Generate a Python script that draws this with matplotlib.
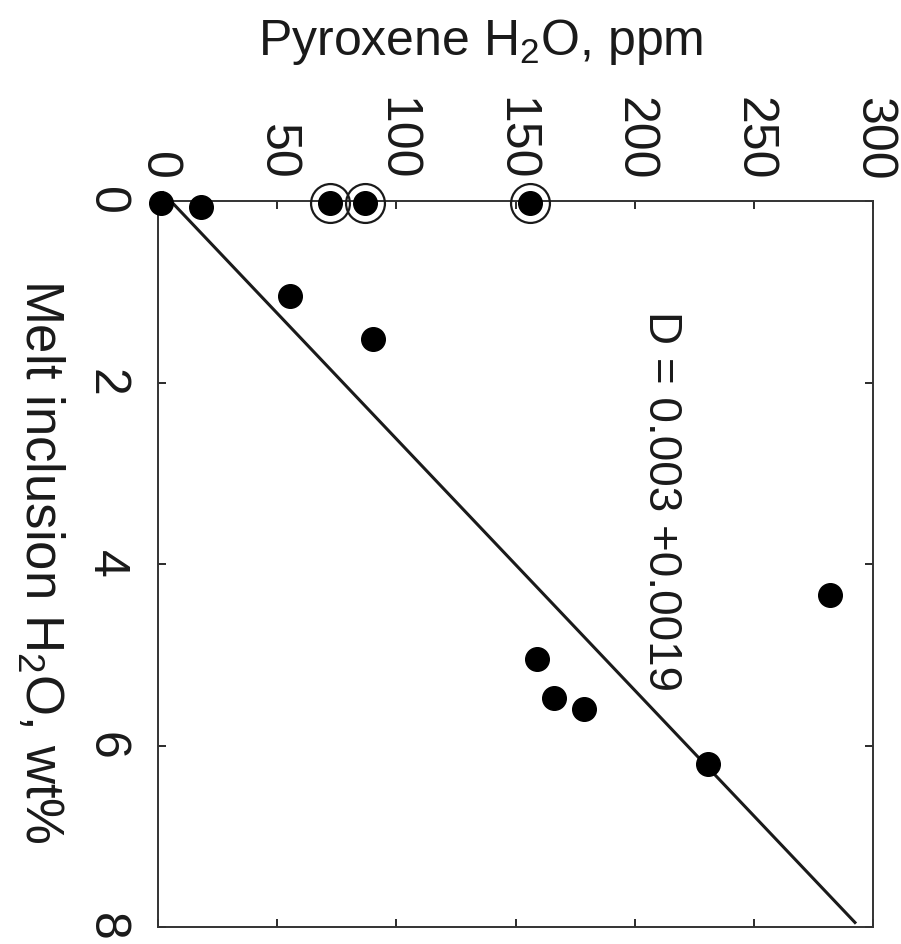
import matplotlib
matplotlib.use('Agg')
import matplotlib.pyplot as plt
import numpy as np

plt.rcParams['font.family'] = ['Liberation Sans', 'DejaVu Sans']
plt.rcParams['mathtext.fontset'] = 'custom'
plt.rcParams['mathtext.rm'] = 'Liberation Sans'

# pyroxene H2O (ppm) vs melt inclusion H2O (wt%)
pyx_ppm = [1.3, 18, 72, 87, 156, 55.5, 90, 282, 159, 166, 178.6, 230.7]
melt_wt = [0.02, 0.07, 0.02, 0.02, 0.02, 1.05, 1.52, 4.34, 5.05, 5.48, 5.6, 6.2]
# circled samples
circ_ppm = [72, 87, 156]
circ_wt = [0.02, 0.02, 0.02]
# fit line endpoints
fit_ppm = [2.1, 292.4]
fit_wt = [-0.09, 7.95]

xticks = [0, 50, 100, 150, 200, 250, 300]
yticks = [0, 2, 4, 6, 8]

fig = plt.figure(figsize=(9.01, 9.44), dpi=100)
ax = fig.add_axes([0.1754, 0.018, 0.7936, 0.769])

ax.plot(fit_ppm, fit_wt, color='#1a1a1a', lw=2.2, clip_on=False, zorder=2)
ax.plot(pyx_ppm, melt_wt, 'o', color='black', ms=17, clip_on=False, zorder=3)
ax.plot(circ_ppm, circ_wt, 'o', mfc='none', mec='#1a1a1a', mew=1.6, ms=28,
        clip_on=False, zorder=3)

ax.set_xlim(0, 300)
ax.set_ylim(8, 0)
ax.set_xticks(xticks)
ax.set_yticks(yticks)
ax.xaxis.tick_top()
ax.tick_params(direction='in', length=6, width=1.3, top=True, bottom=True,
               left=True, right=True, labelsize=36, colors='#1a1a1a')
ax.tick_params(axis='x', pad=15)
ax.tick_params(axis='y', pad=21)
for lab in ax.get_xticklabels():
    lab.set_rotation(-90)
    lab.set_va('bottom')
    lab.set_ha('center')
for lab in ax.get_yticklabels():
    lab.set_rotation(-90)
    lab.set_va('center')
    lab.set_ha('right')
for s in ax.spines.values():
    s.set_linewidth(1.4)
    s.set_color('#333333')

ax.text(211, 3.3, 'D = 0.003 +0.0019', rotation=-90, fontsize=33,
        ha='center', va='center', color='#1a1a1a')

fig.text(0.533, 0.955, r'Pyroxene H$_\mathregular{2}$O, ppm', fontsize=36,
         ha='center', va='center', color='#1a1a1a')
fig.text(0.045, 0.405, r'Melt inclusion H$_\mathregular{2}$O, wt%', fontsize=38,
         rotation=-90, ha='center', va='center', color='#1a1a1a')

fig.savefig('out.png', dpi=100)
